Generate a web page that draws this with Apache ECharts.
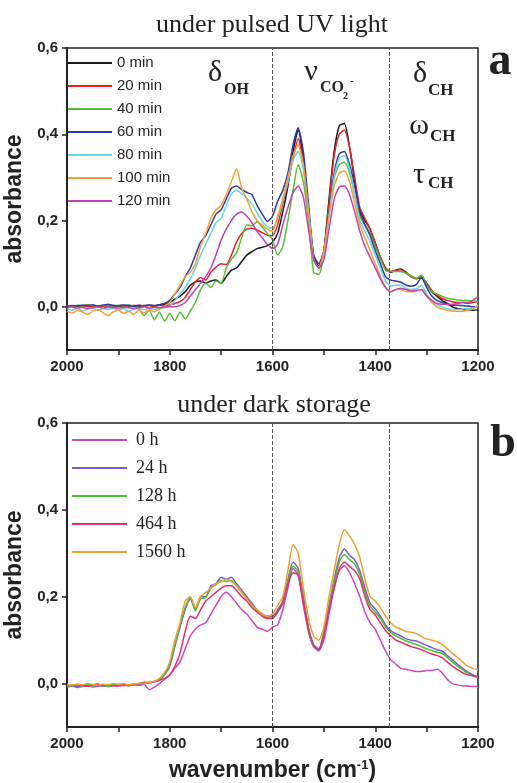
<!DOCTYPE html>
<html>
<head>
<meta charset="utf-8">
<script src="https://cdn.jsdelivr.net/npm/echarts@6/dist/echarts.min.js"></script>
<style>
html, body { margin: 0; padding: 0; background: #fff; }
#chart { width: 517px; height: 783px; }
</style>
</head>
<body>
<div id="chart"></div>
<script>
// wavenumber grid (cm-1), 2000 -> 1200 every 10
var wavenumbers = [];
for (var w = 2000; w >= 1200; w -= 10) wavenumbers.push(w);

var yTicks = [0, 0.2, 0.4, 0.6];
var dashLines = [1600, 1373];

// panel a : under pulsed UV light
var namesA = ['0 min', '20 min', '40 min', '60 min', '80 min', '100 min', '120 min'];
var colorsA = ['#1a1a1a', '#e8202a', '#55c03a', '#2b3aa8', '#66d4e8', '#f5a030', '#c042b0'];

var min0 = [
  0.002,0.001,0.003,0.002,0.004,0.002,0.001,0.003,0.002,0.003,
  0.002,0.004,0.002,0.003,0.002,0.003,0.004,0.002,0.005,0.006,
  0.010,0.018,0.025,0.035,0.050,0.058,0.060,0.055,0.060,0.062,
  0.055,0.070,0.085,0.090,0.105,0.120,0.128,0.135,0.138,0.142,
  0.150,0.170,0.220,0.280,0.360,0.410,0.340,0.220,0.120,0.095,
  0.130,0.250,0.360,0.420,0.425,0.370,0.290,0.225,0.200,0.180,
  0.145,0.115,0.090,0.080,0.085,0.088,0.080,0.070,0.065,0.068,
  0.055,0.035,0.025,0.015,0.008,0.000,-0.004,-0.006,-0.008,-0.008,
  -0.007];
var min20 = [
  0.000,0.002,0.001,0.003,0.001,0.002,0.000,0.002,0.003,0.001,
  0.002,0.001,0.003,0.002,0.004,0.002,0.003,0.001,0.004,0.003,
  0.005,0.008,0.012,0.022,0.040,0.058,0.068,0.062,0.080,0.092,
  0.100,0.098,0.120,0.150,0.170,0.180,0.182,0.178,0.172,0.166,
  0.165,0.190,0.240,0.285,0.345,0.390,0.330,0.210,0.115,0.090,
  0.130,0.240,0.350,0.400,0.410,0.370,0.300,0.230,0.205,0.180,
  0.150,0.115,0.090,0.082,0.085,0.086,0.078,0.070,0.066,0.070,
  0.055,0.038,0.028,0.020,0.015,0.012,0.010,0.010,0.008,0.010,
  0.012];
var min40 = [
  0.003,0.001,0.004,0.002,0.005,0.003,0.002,0.004,0.003,0.002,
  0.004,0.002,0.005,0.001,-0.005,-0.020,-0.008,-0.030,-0.012,-0.033,
  -0.015,-0.032,-0.012,-0.028,-0.010,0.010,0.040,0.055,0.045,0.060,
  0.055,0.090,0.110,0.125,0.160,0.190,0.188,0.198,0.185,0.170,
  0.155,0.120,0.140,0.200,0.270,0.330,0.290,0.200,0.080,0.075,
  0.120,0.220,0.300,0.330,0.335,0.310,0.260,0.210,0.190,0.170,
  0.140,0.110,0.085,0.082,0.082,0.082,0.078,0.072,0.066,0.074,
  0.050,0.035,0.030,0.025,0.020,0.018,0.016,0.015,0.015,0.014,
  0.012];
var min60 = [
  0.001,0.003,0.002,0.004,0.003,0.005,0.002,0.004,0.006,0.003,
  0.002,0.004,0.003,0.001,0.003,0.002,0.004,0.003,0.005,0.008,
  0.015,0.030,0.045,0.070,0.090,0.120,0.150,0.165,0.190,0.215,
  0.225,0.250,0.275,0.280,0.272,0.265,0.260,0.235,0.215,0.198,
  0.210,0.245,0.270,0.310,0.375,0.415,0.360,0.240,0.120,0.100,
  0.130,0.220,0.310,0.355,0.360,0.330,0.280,0.220,0.190,0.165,
  0.130,0.100,0.070,0.062,0.060,0.057,0.050,0.048,0.052,0.068,
  0.045,0.025,0.015,0.010,0.006,0.004,0.004,0.003,0.002,0.000,
  0.000];
var min80 = [
  -0.004,-0.008,-0.003,-0.010,-0.005,-0.002,-0.009,-0.004,-0.006,-0.003,
  -0.008,-0.004,-0.010,-0.005,-0.002,-0.007,-0.003,-0.006,-0.004,-0.002,
  0.002,0.015,0.030,0.045,0.065,0.090,0.120,0.145,0.170,0.195,
  0.205,0.235,0.262,0.270,0.262,0.252,0.238,0.218,0.198,0.186,
  0.182,0.205,0.245,0.290,0.340,0.360,0.320,0.220,0.110,0.090,
  0.120,0.210,0.300,0.345,0.350,0.320,0.260,0.200,0.175,0.150,
  0.120,0.090,0.060,0.048,0.050,0.050,0.043,0.040,0.042,0.050,
  0.030,0.015,0.005,0.000,-0.004,-0.006,-0.006,-0.005,-0.004,-0.003,
  0.000];
var min100 = [
  -0.010,-0.015,-0.008,-0.012,-0.018,-0.010,-0.006,-0.014,-0.020,-0.012,
  -0.008,-0.015,-0.010,-0.018,-0.008,-0.014,-0.006,-0.012,-0.005,0.002,
  0.010,0.030,0.050,0.070,0.080,0.100,0.140,0.170,0.205,0.225,
  0.235,0.260,0.290,0.320,0.275,0.250,0.220,0.200,0.190,0.180,
  0.175,0.210,0.250,0.300,0.350,0.375,0.330,0.220,0.110,0.090,
  0.130,0.210,0.280,0.310,0.315,0.290,0.240,0.190,0.160,0.130,
  0.100,0.070,0.045,0.035,0.040,0.040,0.035,0.035,0.037,0.040,
  0.025,0.010,0.000,-0.005,-0.008,-0.010,-0.010,-0.010,-0.008,-0.005,
  0.005];
var min120 = [
  -0.002,0.000,-0.003,-0.001,-0.004,-0.002,0.000,-0.003,-0.001,-0.002,
  -0.003,-0.001,-0.002,-0.004,-0.002,0.000,-0.003,-0.001,-0.002,0.000,
  0.000,0.000,0.003,0.010,0.025,0.040,0.055,0.070,0.090,0.120,
  0.155,0.180,0.200,0.215,0.220,0.210,0.195,0.175,0.160,0.145,
  0.135,0.145,0.190,0.230,0.265,0.280,0.255,0.180,0.110,0.090,
  0.110,0.180,0.250,0.278,0.280,0.260,0.220,0.175,0.140,0.115,
  0.090,0.065,0.045,0.035,0.040,0.043,0.040,0.037,0.038,0.040,
  0.025,0.015,0.008,0.006,0.006,0.006,0.008,0.010,0.010,0.015,
  0.023];
var valuesA = [min0, min20, min40, min60, min80, min100, min120];

// panel b : under dark storage
var namesB = ['0 h', '24 h', '128 h', '464 h', '1560 h'];
var colorsB = ['#cc48bc', '#7a5cc8', '#48c030', '#e2306e', '#f0a030'];

var h0 = [
  -0.008,-0.006,-0.009,-0.007,-0.005,-0.008,-0.006,-0.004,-0.007,-0.005,
  -0.006,-0.004,-0.005,-0.003,-0.004,-0.002,-0.014,-0.008,0.000,0.010,
  0.020,0.035,0.050,0.080,0.110,0.125,0.135,0.140,0.160,0.180,
  0.200,0.210,0.200,0.185,0.170,0.160,0.145,0.130,0.125,0.120,
  0.130,0.135,0.170,0.220,0.265,0.250,0.180,0.120,0.085,0.075,
  0.100,0.160,0.220,0.260,0.272,0.255,0.230,0.200,0.165,0.140,
  0.125,0.100,0.075,0.055,0.045,0.035,0.033,0.030,0.028,0.028,
  0.030,0.030,0.033,0.025,0.010,0.000,-0.003,-0.005,-0.006,-0.007,
  -0.007];
var h24 = [
  -0.006,-0.004,-0.007,-0.003,-0.005,-0.002,-0.004,-0.006,-0.003,-0.004,
  -0.002,-0.005,-0.003,-0.001,-0.004,0.000,0.002,0.004,0.008,0.020,
  0.040,0.085,0.130,0.170,0.195,0.170,0.200,0.200,0.225,0.230,
  0.245,0.240,0.245,0.230,0.215,0.200,0.185,0.170,0.160,0.155,
  0.155,0.170,0.190,0.240,0.280,0.265,0.200,0.130,0.090,0.080,
  0.120,0.180,0.240,0.290,0.310,0.295,0.285,0.260,0.220,0.185,
  0.172,0.155,0.135,0.122,0.115,0.110,0.103,0.100,0.098,0.093,
  0.088,0.083,0.078,0.075,0.065,0.055,0.045,0.035,0.027,0.020,
  0.015];
var h128 = [
  -0.004,-0.006,-0.003,-0.005,-0.002,-0.006,-0.003,-0.004,-0.007,-0.003,
  -0.004,-0.002,-0.005,-0.002,0.000,0.002,0.003,0.005,0.010,0.022,
  0.045,0.090,0.135,0.175,0.198,0.168,0.195,0.198,0.220,0.228,
  0.238,0.235,0.238,0.225,0.210,0.195,0.180,0.168,0.158,0.152,
  0.150,0.165,0.185,0.235,0.270,0.258,0.195,0.125,0.085,0.078,
  0.115,0.175,0.232,0.280,0.297,0.285,0.275,0.250,0.210,0.178,
  0.165,0.150,0.130,0.118,0.110,0.104,0.098,0.094,0.090,0.085,
  0.080,0.076,0.072,0.070,0.060,0.050,0.040,0.032,0.024,0.018,
  0.013];
var h464 = [
  -0.003,-0.005,-0.002,-0.004,-0.006,-0.003,-0.001,-0.004,-0.002,-0.005,
  -0.003,-0.001,-0.004,-0.002,0.000,0.003,0.002,0.004,0.008,0.012,
  0.020,0.040,0.070,0.120,0.155,0.150,0.170,0.190,0.200,0.210,
  0.220,0.225,0.225,0.215,0.200,0.190,0.175,0.165,0.155,0.150,
  0.150,0.165,0.185,0.230,0.255,0.250,0.190,0.125,0.088,0.078,
  0.110,0.170,0.220,0.265,0.280,0.270,0.260,0.240,0.200,0.170,
  0.158,0.140,0.122,0.110,0.100,0.095,0.090,0.085,0.082,0.078,
  0.073,0.068,0.065,0.060,0.050,0.040,0.032,0.025,0.020,0.018,
  0.016];
var h1560 = [
  -0.002,-0.004,-0.001,-0.003,0.000,-0.002,-0.004,-0.001,-0.003,0.000,
  -0.002,0.000,-0.003,-0.001,0.000,0.000,0.003,0.005,0.012,0.025,
  0.050,0.100,0.140,0.190,0.200,0.175,0.200,0.210,0.220,0.230,
  0.235,0.240,0.235,0.225,0.210,0.195,0.180,0.170,0.160,0.155,
  0.160,0.180,0.200,0.260,0.320,0.300,0.220,0.150,0.110,0.100,
  0.130,0.200,0.260,0.320,0.355,0.340,0.320,0.290,0.240,0.200,
  0.190,0.175,0.155,0.140,0.130,0.125,0.120,0.118,0.115,0.108,
  0.103,0.100,0.097,0.090,0.080,0.070,0.060,0.050,0.040,0.035,
  0.032];
var valuesB = [h0, h24, h128, h464, h1560];

var TEXT = '#222';
var SANS = 'Liberation Sans';
var SERIF = 'Liberation Serif';

function pairs(vals) {
  return vals.map(function (v, i) { return [wavenumbers[i], v]; });
}

function makeSeries(name, vals, color, idx, first) {
  var s = {
    name: name,
    type: 'line',
    xAxisIndex: idx,
    yAxisIndex: idx,
    data: pairs(vals),
    symbol: 'none',
    showSymbol: false,
    smooth: 0.2,
    lineStyle: { width: 1.5, color: color },
    itemStyle: { color: color },
    emphasis: { disabled: true }
  };
  if (first) {
    s.markLine = {
      silent: true,
      symbol: 'none',
      label: { show: false },
      lineStyle: { type: 'dashed', color: '#555', width: 1 },
      data: dashLines.map(function (x) { return { xAxis: x }; })
    };
  }
  return s;
}

function makeX(idx, withName) {
  var ax = {
    type: 'value', gridIndex: idx,
    min: 1200, max: 2000, interval: 200, inverse: true,
    axisLine: { show: true, onZero: false, lineStyle: { color: TEXT, width: 2 } },
    axisTick: { show: true, length: 5, lineStyle: { color: TEXT, width: 1.5 } },
    minorTick: { show: true, splitNumber: 2, length: 5, lineStyle: { color: TEXT, width: 1.5 } },
    axisLabel: {
      formatter: function (v) { return String(v); },
      fontFamily: SANS, fontWeight: 'bold', fontSize: 15, color: TEXT, margin: 9
    },
    splitLine: { show: false }
  };
  if (withName) {
    ax.name = '{b|wavenumber (cm}{s|-1}{b|)}';
    ax.nameLocation = 'middle';
    ax.nameGap = 32;
    ax.nameTextStyle = {
      rich: {
        b: { fontFamily: SANS, fontWeight: 'bold', fontSize: 23, color: TEXT },
        s: { fontFamily: SANS, fontWeight: 'bold', fontSize: 13, color: TEXT, verticalAlign: 'top' }
      }
    };
  }
  return ax;
}

function makeY(idx) {
  return {
    type: 'value', gridIndex: idx,
    min: -0.1, max: 0.6,
    name: 'absorbance', nameLocation: 'middle', nameGap: 37, nameRotate: 90,
    nameTextStyle: { fontFamily: SANS, fontWeight: 'bold', fontSize: 23, color: TEXT },
    axisLine: { show: true, onZero: false, lineStyle: { color: TEXT, width: 2 } },
    axisTick: { show: true, customValues: yTicks, length: 5, lineStyle: { color: TEXT, width: 1.5 } },
    axisLabel: {
      customValues: yTicks,
      formatter: function (v) { return v.toFixed(1).replace('.', ','); },
      fontFamily: SANS, fontWeight: 'bold', fontSize: 15, color: TEXT, margin: 9
    },
    splitLine: { show: false }
  };
}

function txt(x, y, text, font, align) {
  return {
    type: 'text', x: x, y: y, silent: true,
    style: { text: text, font: font, fill: TEXT, align: align || 'center', verticalAlign: 'middle' }
  };
}

var series = [];
namesA.forEach(function (n, i) { series.push(makeSeries(n, valuesA[i], colorsA[i], 0, i === 0)); });
namesB.forEach(function (n, i) { series.push(makeSeries(n, valuesB[i], colorsB[i], 1, i === 0)); });

var chart = echarts.init(document.getElementById('chart'));
chart.setOption({
  animation: false,
  backgroundColor: '#fff',
  grid: [
    { left: 67, top: 48, width: 411, height: 302, outerBoundsMode: 'none', show: true, borderColor: TEXT, borderWidth: 1.5 },
    { left: 67, top: 423, width: 411, height: 304, outerBoundsMode: 'none', show: true, borderColor: TEXT, borderWidth: 1.5 }
  ],
  xAxis: [makeX(0, false), makeX(1, true)],
  yAxis: [makeY(0), makeY(1)],
  legend: [
    {
      data: namesA, orient: 'vertical', left: 68, top: 55,
      icon: 'rect', itemWidth: 44, itemHeight: 2, itemGap: 7, padding: 0,
      textStyle: { fontFamily: SANS, fontSize: 15, color: TEXT, lineHeight: 16 }
    },
    {
      data: namesB, orient: 'vertical', left: 72, top: 430,
      icon: 'rect', itemWidth: 55, itemHeight: 2, itemGap: 8, padding: 0,
      textStyle: { fontFamily: SERIF, fontSize: 18, color: TEXT, lineHeight: 20, padding: [0, 0, 0, 4] }
    }
  ],
  graphic: [
    txt(272, 25, 'under pulsed UV light', '26px "Liberation Serif"'),
    txt(274, 405, 'under dark storage', '26px "Liberation Serif"'),
    txt(500, 62, 'a', 'bold 46px "Liberation Serif"'),
    txt(503, 444, 'b', 'bold 46px "Liberation Serif"'),
    txt(215, 73, 'δ', '30px "Liberation Serif"'),
    txt(224, 90, 'OH', 'bold 16px "Liberation Serif"', 'left'),
    txt(311, 72, 'ν', '30px "Liberation Serif"'),
    txt(320, 88, 'CO', 'bold 16px "Liberation Serif"', 'left'),
    txt(343, 96, '2', 'bold 10px "Liberation Serif"', 'left'),
    txt(350, 81, '-', 'bold 11px "Liberation Serif"', 'left'),
    txt(420, 74, 'δ', '30px "Liberation Serif"'),
    txt(428, 91, 'CH', 'bold 17px "Liberation Serif"', 'left'),
    txt(419, 126, 'ω', '30px "Liberation Serif"'),
    txt(430, 137, 'CH', 'bold 17px "Liberation Serif"', 'left'),
    txt(419, 175, 'τ', '30px "Liberation Serif"'),
    txt(428, 184, 'CH', 'bold 17px "Liberation Serif"', 'left')
  ],
  series: series
});
</script>
</body>
</html>
